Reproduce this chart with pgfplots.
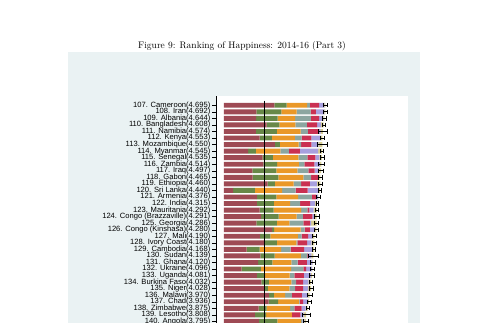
\documentclass[border=0pt]{standalone}
\usepackage{pgfplots}
\pgfplotsset{compat=1.18}
\usepackage{pgfplotstable}
\usepackage{fontspec}
\newfontfamily\labfont{Liberation Sans}
\definecolor{bgc}{RGB}{234,242,243}
\definecolor{cDys}{RGB}{158,74,84}
\definecolor{cGdp}{RGB}{104,136,72}
\definecolor{cFam}{RGB}{234,152,40}
\definecolor{cHea}{RGB}{140,166,160}
\definecolor{cFre}{RGB}{202,48,82}
\definecolor{cGen}{RGB}{168,160,222}
\definecolor{cTru}{RGB}{214,204,146}

\pgfplotstableread{
rank dys gdp fam hea fre gen tru score ep em
107 2.334 0.564 0.946 0.133 0.430 0.236 0.051 4.695 0.101 0.102
108 1.499 1.157 0.712 0.639 0.249 0.387 0.049 4.692 0.105 0.105
109 1.490 0.996 0.804 0.731 0.381 0.201 0.040 4.644 0.108 0.108
110 1.979 0.587 0.735 0.533 0.478 0.172 0.124 4.608 0.071 0.071
111 1.482 0.964 1.098 0.339 0.520 0.077 0.093 4.574 0.197 0.197
112 1.652 0.560 1.068 0.310 0.453 0.445 0.065 4.553 0.102 0.102
113 2.356 0.234 0.871 0.107 0.481 0.322 0.179 4.550 0.224 0.224
114 1.115 0.367 1.123 0.398 0.514 0.838 0.189 4.545 0.068 0.068
115 1.790 0.479 1.180 0.409 0.378 0.183 0.115 4.535 0.089 0.089
116 1.827 0.636 1.003 0.258 0.462 0.250 0.078 4.514 0.130 0.130
117 1.319 1.103 0.979 0.501 0.289 0.200 0.107 4.497 0.125 0.125
118 1.322 1.198 1.156 0.357 0.312 0.044 0.076 4.465 0.087 0.087
119 2.016 0.339 0.865 0.353 0.409 0.313 0.165 4.460 0.083 0.083
120 0.419 1.010 1.260 0.625 0.561 0.491 0.073 4.440 0.068 0.068
121 1.521 0.901 1.007 0.638 0.198 0.083 0.027 4.376 0.090 0.090
122 1.519 0.792 0.754 0.455 0.470 0.232 0.092 4.315 0.037 0.037
123 1.652 0.648 1.272 0.285 0.096 0.202 0.137 4.292 0.081 0.081
124 1.724 0.809 0.832 0.290 0.435 0.121 0.080 4.291 0.127 0.127
125 1.500 0.951 0.571 0.650 0.309 0.054 0.252 4.286 0.085 0.085
126 2.225 0.092 1.229 0.191 0.236 0.246 0.060 4.280 0.111 0.111
127 1.668 0.476 1.281 0.169 0.307 0.183 0.105 4.190 0.091 0.091
128 1.845 0.603 0.905 0.049 0.448 0.201 0.130 4.180 0.091 0.091
129 1.043 0.602 1.006 0.430 0.633 0.386 0.068 4.168 0.069 0.069
130 1.687 0.660 1.214 0.291 0.015 0.182 0.090 4.139 0.210 0.210
131 1.578 0.667 0.874 0.296 0.423 0.257 0.025 4.120 0.112 0.112
132 0.814 0.895 1.395 0.576 0.123 0.270 0.023 4.096 0.090 0.090
133 1.526 0.381 1.130 0.218 0.443 0.326 0.057 4.081 0.115 0.115
134 1.727 0.350 1.043 0.216 0.324 0.251 0.120 4.032 0.080 0.080
135 1.874 0.162 0.993 0.269 0.364 0.229 0.139 4.028 0.088 0.088
136 2.082 0.233 0.513 0.315 0.467 0.287 0.073 3.970 0.107 0.107
137 2.071 0.438 0.954 0.041 0.162 0.216 0.054 3.936 0.096 0.096
138 1.598 0.376 1.083 0.197 0.336 0.189 0.095 3.875 0.076 0.076
139 1.430 0.521 1.190 0.000 0.391 0.157 0.119 3.808 0.191 0.191
140 1.614 0.858 1.104 0.050 0.000 0.098 0.070 3.795 0.111 0.111
}\data

\pgfplotsset{
  common/.style={
    scale only axis,
    width=192pt, height=238pt,
    at={(216pt,226.5pt)}, anchor=north west,
    xmin=-0.37, xmax=8.52,
    ymin=105.66, ymax=142,
    y dir=reverse,
  }
}

\begin{document}
\begin{tikzpicture}[x=1pt,y=1pt]
\useasboundingbox (0,0) rectangle (480,323);
\clip (0,0) rectangle (480,323);
\fill[white] (0,0) rectangle (480,323);
\fill[bgc] (68,-60) rectangle (420,271);
\node[anchor=base, font=\fontsize{9.5}{11}\selectfont] at (242,274.7)
  {Figure 9: Ranking of Happiness: 2014-16 (Part 3)};

\begin{axis}[common,
    xbar stacked,
    bar width=4.9pt,
    axis background/.style={fill=white},
    axis x line=none,
    axis y line*=left,
    y axis line style={-, black, line width=0.5pt},
    xtick=\empty,
    ytick={107,...,140},
    yticklabels={
      {107. Cameroon(4.695)},{108. Iran(4.692)},{109. Albania(4.644)},
      {110. Bangladesh(4.608)},{111. Namibia(4.574)},{112. Kenya(4.553)},
      {113. Mozambique(4.550)},{114. Myanmar(4.545)},{115. Senegal(4.535)},
      {116. Zambia(4.514)},{117. Iraq(4.497)},{118. Gabon(4.465)},
      {119. Ethiopia(4.460)},{120. Sri Lanka(4.440)},{121. Armenia(4.376)},
      {122. India(4.315)},{123. Mauritania(4.292)},
      {124. Congo (Brazzaville)(4.291)},{125. Georgia(4.286)},
      {126. Congo (Kinshasa)(4.280)},{127. Mali(4.190)},
      {128. Ivory Coast(4.180)},{129. Cambodia(4.168)},{130. Sudan(4.139)},
      {131. Ghana(4.120)},{132. Ukraine(4.096)},{133. Uganda(4.081)},
      {134. Burkina Faso(4.032)},{135. Niger(4.028)},{136. Malawi(3.970)},
      {137. Chad(3.936)},{138. Zimbabwe(3.875)},{139. Lesotho(3.808)},
      {140. Angola(3.795)}},
    tick align=outside,
    major tick length=4pt,
    ytick style={black, line width=0.4pt},
    yticklabel style={font=\fontsize{7.6}{8}\selectfont\labfont, inner sep=1.5pt},
  ]
  \addplot[fill=cDys, draw=none] table[x=dys, y=rank] {\data};
  \addplot[fill=cGdp, draw=none] table[x=gdp, y=rank] {\data};
  \addplot[fill=cFam, draw=none] table[x=fam, y=rank] {\data};
  \addplot[fill=cHea, draw=none] table[x=hea, y=rank] {\data};
  \addplot[fill=cFre, draw=none] table[x=fre, y=rank] {\data};
  \addplot[fill=cGen, draw=none] table[x=gen, y=rank] {\data};
  \addplot[fill=cTru, draw=none] table[x=tru, y=rank] {\data};
\end{axis}

\begin{axis}[common, hide axis]
  \addplot[black, line width=0.6pt] coordinates {(1.85,106.3) (1.85,142)};
  \addplot[draw=none, mark=none,
    error bars/.cd, x dir=both, x explicit,
    error bar style={black, line width=0.7pt},
    error mark options={black, line width=0.7pt, mark size=2.2pt, rotate=90}]
    table[x=score, y=rank, x error plus=ep, x error minus=em] {\data};
\end{axis}
\end{tikzpicture}
\end{document}
